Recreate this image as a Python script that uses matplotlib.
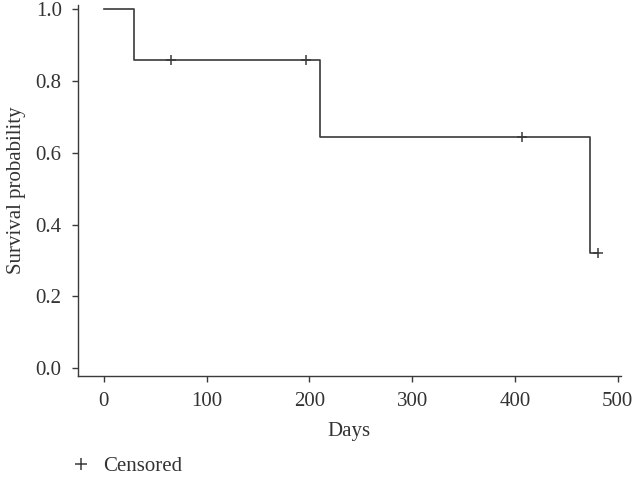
import matplotlib
matplotlib.use("Agg")
import matplotlib.pyplot as plt
from matplotlib.lines import Line2D

plt.rcParams['font.family'] = ['Liberation Serif', 'DejaVu Serif']

# Kaplan-Meier step data
step_times = [0, 29, 210, 473, 481]
step_surv = [1.0, 0.857, 0.643, 0.321, 0.321]
censor_times = [65, 197, 407, 481]
censor_surv = [0.857, 0.857, 0.643, 0.321]

x_ticks = [0, 100, 200, 300, 400, 500]
y_ticks = [0.0, 0.2, 0.4, 0.6, 0.8, 1.0]

color = '#3a3a3a'
tcolor = '#333333'

fig = plt.figure(figsize=(6.33, 4.78), dpi=100)
ax = fig.add_axes([0.1227, 0.2134, 0.858, 0.776])

ax.step(step_times, step_surv, where='post', color=color, lw=1.2)
ax.plot(censor_times, censor_surv, linestyle='none', marker='+', color=color,
        markersize=7, markeredgewidth=1.1)

ax.set_xlim(-25.5, 503)
ax.set_ylim(-0.021, 1.01)
ax.set_xticks(x_ticks)
ax.set_xticklabels([str(t) for t in x_ticks])
ax.set_yticks(y_ticks)
ax.set_yticklabels([f"{t:.1f}" for t in y_ticks])

for s in ['top', 'right']:
    ax.spines[s].set_visible(False)
for s in ['left', 'bottom']:
    ax.spines[s].set_color(color)
    ax.spines[s].set_linewidth(1.0)
ax.tick_params(direction='out', length=4.5, width=1.0, color=color,
               labelsize=15, labelcolor=tcolor)
ax.tick_params(axis='y', pad=7)
ax.tick_params(axis='x', pad=7)

ax.set_xlabel('Days', fontsize=15, color=tcolor, labelpad=8)
ax.set_ylabel('Survival probability', fontsize=15, color=tcolor, labelpad=7)

handle = Line2D([], [], linestyle='none', marker='+', color=color,
                markersize=8, markeredgewidth=1.1)
fig.legend([handle], ['Censored'], loc='lower left', bbox_to_anchor=(0.105, 0.0),
           frameon=False, fontsize=15, handletextpad=0.45, handlelength=1.2,
           borderpad=0.1, borderaxespad=0.0, labelcolor=tcolor)

fig.savefig('out.png', dpi=100)
